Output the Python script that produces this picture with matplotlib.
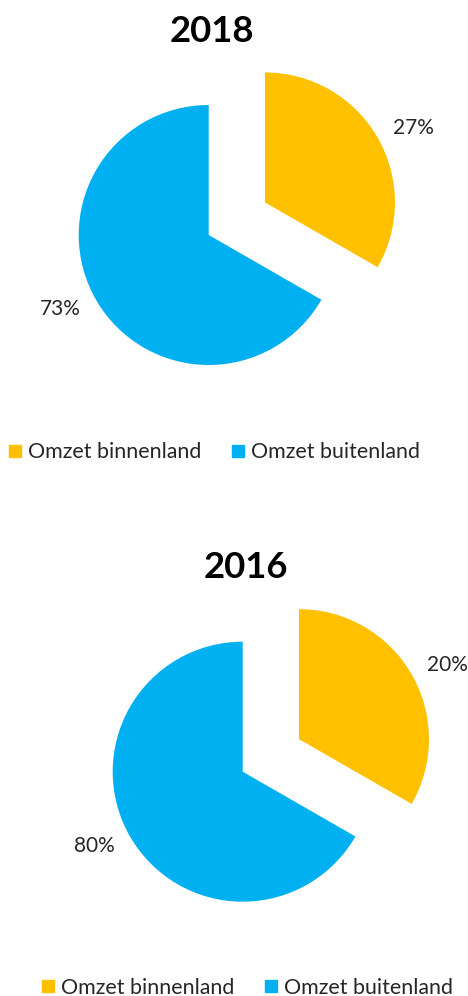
import matplotlib
matplotlib.use("Agg")
import matplotlib.pyplot as plt
from matplotlib.lines import Line2D

# ---- data ----
years = ["2018", "2016"]
categories = ["Omzet binnenland", "Omzet buitenland"]
shares_2018 = [33.3, 66.7]          # wedge sizes as drawn
shares_2016 = [33.3, 66.7]
pct_labels_2018 = ["27%", "73%"]
pct_labels_2016 = ["20%", "80%"]
colors = ["#FFC000", "#00B0F0"]

W, H = 468, 996
fig = plt.figure(figsize=(W / 100, H / 100), dpi=100)
fig.patch.set_facecolor("white")
FONT = "Lato"

panels = [
    dict(year=years[0], shares=shares_2018, labels=pct_labels_2018,
         cx=208.7, cy=235, title_x=212, title_y=31.5, leg_x=9, leg_y=452),
    dict(year=years[1], shares=shares_2016, labels=pct_labels_2016,
         cx=242.7, cy=771.7, title_x=246, title_y=567.5, leg_x=42, leg_y=987.5),
]
R = 130.0

for p in panels:
    ax = fig.add_axes([(p["cx"] - 2 * R) / W, (H - p["cy"] - 2 * R) / H, 4 * R / W, 4 * R / H])
    wedges, texts = ax.pie(p["shares"], labels=p["labels"], colors=colors,
                           startangle=90, counterclock=False, explode=[0.5, 0.0],
                           radius=1.0, labeldistance=1.14,
                           wedgeprops=dict(linewidth=0),
                           textprops=dict(fontsize=15, family=FONT, color="#262626"))
    ax.set_xlim(-2, 2)
    ax.set_ylim(-2, 2)
    ax.set_aspect("equal")
    ax.axis("off")
    for w in wedges:
        w.set_clip_on(False)
    fig.text(p["title_x"] / W, 1 - p["title_y"] / H, p["year"], ha="center", va="center",
             fontsize=26.3, fontweight="bold", family=FONT, color="black")
    handles = [Line2D([], [], marker="s", linestyle="", markersize=8.6, color=c) for c in colors]
    fig.legend(handles, categories, loc="center left",
               bbox_to_anchor=(p["leg_x"] / W, 1 - p["leg_y"] / H), ncol=2, frameon=False,
               borderpad=0, borderaxespad=0, handlelength=0.6, handletextpad=0.3,
               columnspacing=1.42, prop=dict(family=FONT, size=15.4), labelcolor="#262626")

fig.savefig("out.png", dpi=100, facecolor="white")
